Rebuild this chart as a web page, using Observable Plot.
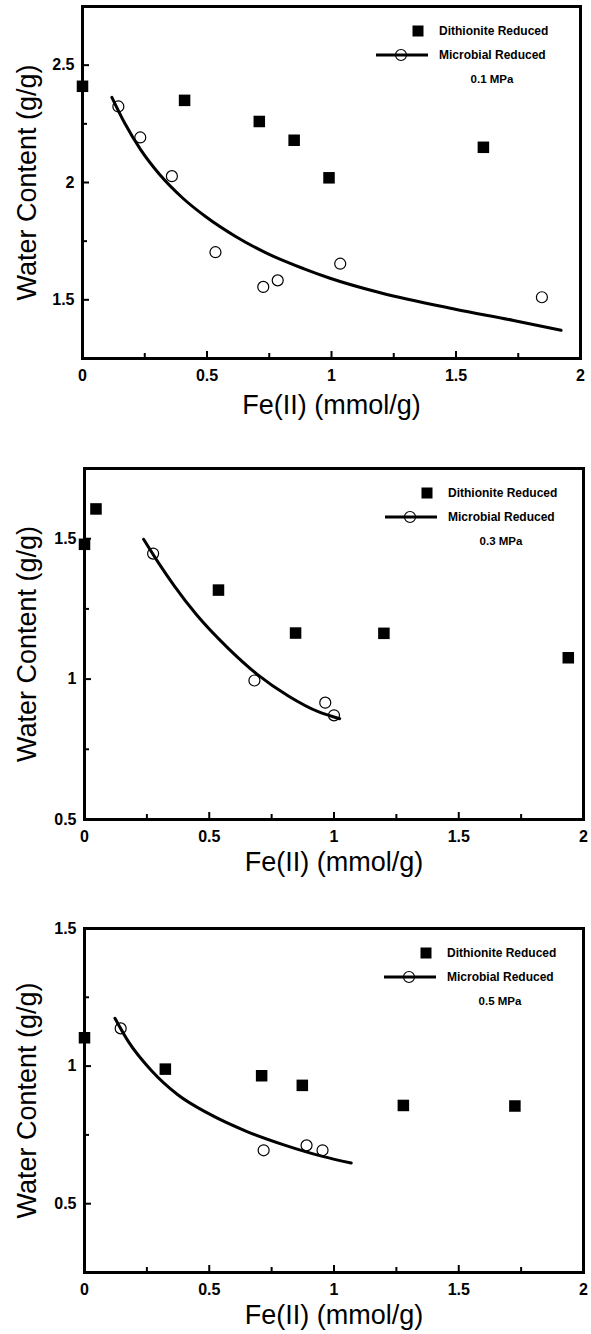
<!DOCTYPE html>
<html><head><meta charset="utf-8">
<script src="https://cdn.jsdelivr.net/npm/d3@7"></script>
<script src="https://cdn.jsdelivr.net/npm/@observablehq/plot@0.6"></script>
<style>
body{margin:0;background:#fff;}
#c{width:591px;}
#c svg{display:block;}
</style></head><body><div id="c"></div>
<script>
// ---------- data ----------
const seriesNames = ["Dithionite Reduced", "Microbial Reduced"];
const pressures = ["0.1 MPa", "0.3 MPa", "0.5 MPa"];
const xTitle = "Fe(II) (mmol/g)";
const yTitle = "Water Content (g/g)";

const xMajor = [0, 0.5, 1, 1.5, 2];
const xMinor = [0.25, 0.75, 1.25, 1.75];

// Panel 1 (0.1 MPa)
const p1DithX = [0, 0.41, 0.71, 0.85, 0.99, 1.61];
const p1DithY = [2.41, 2.35, 2.26, 2.18, 2.02, 2.15];
const p1MicX = [0.144, 0.232, 0.359, 0.534, 0.726, 0.784, 1.035, 1.845];
const p1MicY = [2.324, 2.192, 2.027, 1.703, 1.555, 1.583, 1.654, 1.511];
const p1FitX = [0.118, 0.171, 0.232, 0.309, 0.401, 0.494, 0.615, 0.737, 0.890, 0.994, 1.196, 1.497, 1.731, 1.922];
const p1FitY = [2.363, 2.250, 2.142, 2.035, 1.935, 1.855, 1.770, 1.700, 1.632, 1.592, 1.530, 1.460, 1.412, 1.370];
const p1YDomain = [1.25, 2.75];
const p1YMajor = [1.5, 2, 2.5];
const p1YMinor = [1.75, 2.25];

// Panel 2 (0.3 MPa)
const p2DithX = [0, 0.046, 0.537, 0.846, 1.2, 1.939];
const p2DithY = [1.48, 1.606, 1.317, 1.164, 1.163, 1.076];
const p2MicX = [0.275, 0.681, 0.965, 1.0];
const p2MicY = [1.447, 0.995, 0.916, 0.871];
const p2FitX = [0.237, 0.298, 0.359, 0.450, 0.573, 0.695, 0.817, 0.939, 1.023];
const p2FitY = [1.498, 1.412, 1.333, 1.228, 1.112, 1.015, 0.940, 0.883, 0.859];
const p2YDomain = [0.5, 1.75];
const p2YMajor = [0.5, 1, 1.5];
const p2YMinor = [0.75, 1.25];

// Panel 3 (0.5 MPa)
const p3DithX = [0, 0.324, 0.71, 0.873, 1.278, 1.725];
const p3DithY = [1.103, 0.989, 0.965, 0.930, 0.857, 0.855];
const p3MicX = [0.145, 0.718, 0.890, 0.954];
const p3MicY = [1.137, 0.694, 0.712, 0.694];
const p3FitX = [0.122, 0.176, 0.267, 0.374, 0.496, 0.649, 0.802, 0.954, 1.069];
const p3FitY = [1.174, 1.089, 0.985, 0.896, 0.828, 0.763, 0.713, 0.672, 0.648];
const p3YDomain = [0.25, 1.5];
const p3YMajor = [0.5, 1, 1.5];
const p3YMinor = [0.75, 1.25];

// ---------- build ----------
const zip = (xs, ys) => xs.map((x, i) => ({x, y: ys[i]}));
const FONT = "'Liberation Sans', Arial, Helvetica, sans-serif";

const panels = [
  {dith: zip(p1DithX, p1DithY), mic: zip(p1MicX, p1MicY), fit: zip(p1FitX, p1FitY),
   yDomain: p1YDomain, yMajor: p1YMajor, yMinor: p1YMinor, pressure: pressures[0],
   layout: {height: 440, mt: 6, mb: 82, ml: 82, mr: 11, xTitleDy: 47, legendX: 418}},
  {dith: zip(p2DithX, p2DithY), mic: zip(p2MicX, p2MicY), fit: zip(p2FitX, p2FitY),
   yDomain: p2YDomain, yMajor: p2YMajor, yMinor: p2YMinor, pressure: pressures[1],
   layout: {height: 460, mt: 28, mb: 81, ml: 84, mr: 8, xTitleDy: 43, legendX: 427}},
  {dith: zip(p3DithX, p3DithY), mic: zip(p3MicX, p3MicY), fit: zip(p3FitX, p3FitY),
   yDomain: p3YDomain, yMajor: p3YMajor, yMinor: p3YMinor, pressure: pressures[2],
   layout: {height: 434, mt: 28, mb: 62, ml: 84, mr: 8, xTitleDy: 43, legendX: 426}}
];

const W = 591;
const container = document.getElementById("c");

for (const p of panels) {
  const L = p.layout;
  const innerW = W - L.ml - L.mr;
  const innerH = L.height - L.mt - L.mb;
  const svg = Plot.plot({
    width: W, height: L.height,
    marginTop: L.mt, marginBottom: L.mb, marginLeft: L.ml, marginRight: L.mr,
    style: {fontFamily: FONT, background: "white", color: "black", overflow: "visible"},
    x: {domain: [0, 2], axis: null},
    y: {domain: p.yDomain, axis: null},
    marks: [
      // inward ticks
      Plot.tickX(xMajor, {x: d => d, insetTop: innerH - 7, stroke: "black", strokeWidth: 2}),
      Plot.tickX(xMinor, {x: d => d, insetTop: innerH - 5, stroke: "black", strokeWidth: 2}),
      Plot.tickY(p.yMajor, {y: d => d, insetRight: innerW - 7, stroke: "black", strokeWidth: 2}),
      Plot.tickY(p.yMinor, {y: d => d, insetRight: innerW - 5, stroke: "black", strokeWidth: 2}),
      Plot.frame({stroke: "black", strokeWidth: 3}),
      // tick labels
      Plot.text(xMajor, {x: d => d, frameAnchor: "bottom", dy: 17, text: d => String(d),
        fontSize: 16, fontWeight: "bold", fontFamily: FONT, textAnchor: "middle", lineAnchor: "middle", fill: "black"}),
      Plot.text(p.yMajor, {y: d => d, frameAnchor: "left", dx: -8, text: d => String(d),
        fontSize: 16, fontWeight: "bold", fontFamily: FONT, textAnchor: "end", lineAnchor: "middle", fill: "black"}),
      // axis titles
      Plot.text([xTitle], {frameAnchor: "bottom", dy: L.xTitleDy, text: d => d,
        fontSize: 27, fontFamily: FONT, textAnchor: "middle", lineAnchor: "middle", fill: "black"}),
      Plot.text([yTitle], {frameAnchor: "left", dx: 27 - L.ml, rotate: -90, text: d => d,
        fontSize: 27, fontFamily: FONT, textAnchor: "middle", lineAnchor: "middle", fill: "black"}),
      // data
      Plot.line(p.fit, {x: "x", y: "y", curve: "monotone-x", stroke: "black", strokeWidth: 3}),
      Plot.dot(p.mic, {x: "x", y: "y", r: 5.5, symbol: "circle", fill: "none", stroke: "black", strokeWidth: 1.2}),
      Plot.dot(p.dith, {x: "x", y: "y", r: 6.5, symbol: "square", fill: "black", stroke: "none"})
    ]
  });

  // legend (inside top-right of plot frame)
  const g = d3.select(svg).append("g")
    .attr("transform", `translate(${L.legendX},${L.mt})`)
    .attr("font-family", FONT).attr("font-weight", "bold").attr("font-size", 12)
    .attr("fill", "black").attr("text-anchor", "start");
  g.append("rect").attr("x", -5.5).attr("y", 25 - 5.5).attr("width", 11).attr("height", 11).attr("fill", "black");
  g.append("text").attr("x", 21).attr("y", 25).attr("dy", "0.35em").text(seriesNames[0]);
  g.append("line").attr("x1", -42).attr("x2", 10).attr("y1", 49).attr("y2", 49)
    .attr("stroke", "black").attr("stroke-width", 3);
  g.append("circle").attr("cx", -17).attr("cy", 49).attr("r", 5.5)
    .attr("fill", "none").attr("stroke", "black").attr("stroke-width", 1.2);
  g.append("text").attr("x", 21).attr("y", 49).attr("dy", "0.35em").text(seriesNames[1]);
  g.append("text").attr("x", 74).attr("y", 73).attr("dy", "0.35em").attr("text-anchor", "middle")
    .attr("font-size", 11.5).text(p.pressure);

  container.appendChild(svg);
}
</script>
</body></html>
